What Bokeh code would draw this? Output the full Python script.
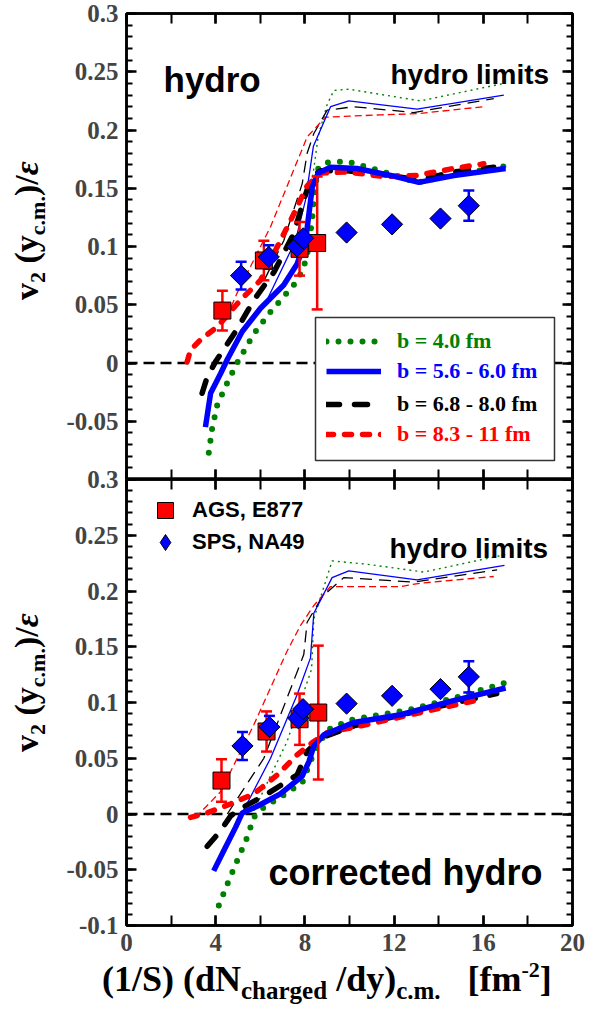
import numpy as np
from bokeh.plotting import figure
from bokeh.models import (Range1d, LinearAxis, FixedTicker, ColumnDataSource, Label,
                          Legend, LegendItem, BoxAnnotation, Span, CustomJSTickFormatter, Div)
from bokeh.layouts import column, row
from bokeh.embed import file_html
from bokeh.resources import INLINE

# ---------------- data ----------------
# top panel: hydro
ags_x_top = [4.30, 6.16, 7.76, 8.55]
ags_y_top = [0.045, 0.088, 0.098, 0.103]
ags_err_top = [0.017, 0.017, 0.023, 0.057]
sps_x_top = [5.14, 6.38, 7.65, 7.92, 9.87, 11.91, 14.08, 15.35]
sps_y_top = [0.075, 0.091, 0.100, 0.107, 0.112, 0.119, 0.124, 0.135]
sps_err_top = [0.012, 0.010, 0.0, 0.0, 0.0, 0.0, 0.0, 0.013]

green_top_x = [3.69, 3.84, 4.07, 4.52, 4.96, 5.71, 6.46, 7.50, 7.92, 8.18, 8.33, 8.45, 8.60, 8.90, 9.90, 11.39, 13.03, 15.13, 17.30]
green_top_y = [-0.077, -0.056, -0.036, -0.017, 0.000, 0.025, 0.044, 0.067, 0.080, 0.100, 0.125, 0.150, 0.167, 0.172, 0.173, 0.165, 0.155, 0.163, 0.170]
blue_top_x = [3.54, 3.77, 4.22, 4.52, 5.19, 6.01, 7.05, 7.65, 8.03, 8.18, 8.33, 8.60, 9.15, 10.34, 11.84, 13.11, 14.68, 17.00]
blue_top_y = [-0.055, -0.026, -0.009, 0.003, 0.027, 0.047, 0.067, 0.085, 0.105, 0.128, 0.151, 0.163, 0.168, 0.167, 0.161, 0.155, 0.161, 0.167]
black_top_x = [3.39, 3.62, 3.99, 4.89, 5.71, 6.61, 7.50, 7.95, 8.30, 8.70, 9.90, 11.84, 13.10, 14.68, 16.47]
black_top_y = [-0.026, -0.012, 0.001, 0.027, 0.054, 0.078, 0.111, 0.140, 0.160, 0.165, 0.165, 0.161, 0.157, 0.164, 0.168]
red_top_x = [2.72, 2.87, 3.32, 4.07, 5.11, 6.01, 6.90, 7.35, 7.80, 8.10, 8.70, 9.90, 11.54, 13.03, 14.68, 16.02]
red_top_y = [0.001, 0.011, 0.020, 0.031, 0.054, 0.071, 0.105, 0.122, 0.140, 0.152, 0.163, 0.164, 0.160, 0.161, 0.167, 0.171]

green_lim_top_x = [8.35, 8.60, 9.00, 9.30, 9.97, 13.18, 16.92]
green_lim_top_y = [0.160, 0.195, 0.222, 0.234, 0.235, 0.225, 0.240]
blue_lim_top_x = [6.35, 7.58, 8.03, 8.38, 9.15, 9.97, 13.03, 16.92]
blue_lim_top_y = [0.056, 0.105, 0.140, 0.186, 0.220, 0.225, 0.218, 0.230]
black_lim_top_x = [6.20, 7.05, 7.88, 8.10, 8.40, 9.00, 10.19, 12.88, 16.47]
black_lim_top_y = [0.072, 0.105, 0.154, 0.180, 0.197, 0.217, 0.220, 0.215, 0.227]
red_lim_top_x = [4.50, 4.96, 6.46, 8.10, 8.92, 11.39, 13.03, 16.02]
red_lim_top_y = [0.040, 0.060, 0.117, 0.194, 0.211, 0.213, 0.214, 0.220]

# bottom panel: corrected hydro
ags_x_bot = [4.26, 6.28, 7.76, 8.60]
ags_y_bot = [0.030, 0.074, 0.085, 0.091]
ags_err_bot = [0.019, 0.018, 0.023, 0.060]
sps_x_bot = [5.20, 6.41, 7.70, 7.92, 9.87, 11.91, 14.08, 15.35]
sps_y_bot = [0.061, 0.078, 0.086, 0.094, 0.099, 0.106, 0.112, 0.123]
sps_err_bot = [0.0125, 0.010, 0.0, 0.0, 0.0, 0.0, 0.0, 0.014]

green_bot_x = [4.14, 4.52, 4.96, 5.41, 5.71, 6.16, 6.90, 7.88, 8.25, 8.55, 9.15, 10.19, 12.59, 14.68, 17.22]
green_bot_y = [-0.082, -0.063, -0.042, -0.021, -0.003, 0.006, 0.015, 0.028, 0.047, 0.062, 0.077, 0.085, 0.093, 0.104, 0.119]
blue_bot_x = [3.91, 4.36, 4.89, 5.19, 5.86, 6.90, 7.88, 8.18, 8.40, 8.85, 10.19, 12.29, 14.53, 17.00]
blue_bot_y = [-0.051, -0.033, -0.012, 0.001, 0.007, 0.018, 0.034, 0.047, 0.061, 0.071, 0.082, 0.089, 0.101, 0.113]
black_bot_x = [3.62, 4.22, 4.66, 4.96, 6.31, 7.65, 8.10, 8.70, 10.19, 13.00, 16.60]
black_bot_y = [-0.029, -0.015, -0.002, 0.003, 0.018, 0.035, 0.056, 0.068, 0.079, 0.092, 0.108]
red_bot_x = [2.87, 3.62, 4.66, 5.71, 6.76, 7.65, 8.33, 9.00, 10.49, 11.84, 14.08, 15.72]
red_bot_y = [-0.003, 0.001, 0.009, 0.018, 0.035, 0.053, 0.064, 0.073, 0.079, 0.085, 0.095, 0.102]

green_lim_bot_x = [5.71, 7.20, 8.30, 8.40, 9.22, 10.79, 13.33, 17.07]
green_lim_bot_y = [0.003, 0.065, 0.130, 0.175, 0.227, 0.224, 0.217, 0.233]
blue_lim_bot_x = [5.19, 6.46, 7.65, 8.25, 8.40, 9.22, 9.97, 13.03, 16.95]
blue_lim_bot_y = [0.001, 0.050, 0.107, 0.140, 0.180, 0.212, 0.218, 0.210, 0.223]
black_lim_bot_x = [4.52, 6.16, 7.95, 8.10, 8.78, 9.74, 12.88, 16.62]
black_lim_bot_y = [0.000, 0.050, 0.143, 0.172, 0.195, 0.212, 0.208, 0.219]
red_lim_bot_x = [3.10, 4.22, 5.71, 7.20, 7.80, 8.40, 9.15, 12.29, 13.18, 16.47]
red_lim_bot_y = [-0.003, 0.020, 0.080, 0.146, 0.169, 0.187, 0.204, 0.204, 0.207, 0.213]

legend_labels = ["b = 4.0 fm", "b = 5.6 - 6.0 fm", "b = 6.8 - 8.0 fm", "b = 8.3 - 11 fm"]
data_labels = ["AGS, E877", "SPS, NA49"]

x_ticks = [0, 4, 8, 12, 16, 20]
x_minor = [0, 2, 4, 6, 8, 10, 12, 14, 16, 18, 20]
y_ticks_top = [-0.05, 0, 0.05, 0.1, 0.15, 0.2, 0.25, 0.3]
y_ticks_bot = [-0.1, -0.05, 0, 0.05, 0.1, 0.15, 0.2, 0.25, 0.3]
y_minor = [round(-0.1 + 0.01 * i, 2) for i in range(41)]

# ---------------- style ----------------
SERIF = "Liberation Serif"
SANS = "Liberation Sans"
GREEN, BLUE, BLACK, RED = "#008000", "#0000ff", "#000000", "#ff0000"
DIV_W = 50
LB, FW, RB = 76, 446, 14
W = LB + FW + RB

fmt = CustomJSTickFormatter(code="return String(Math.round(tick * 100) / 100);")


def style_axis(ax, major_len, minor_len, labels):
    ax.axis_line_width = 2.5
    ax.axis_line_color = "black"
    ax.major_tick_line_width = 2.5
    ax.minor_tick_line_width = 2
    ax.major_tick_in = major_len
    ax.major_tick_out = 0
    ax.minor_tick_in = minor_len
    ax.minor_tick_out = 0
    if labels:
        ax.major_label_text_font = SERIF
        ax.major_label_text_font_style = "bold"
        ax.major_label_text_font_size = "25px"
        ax.major_label_standoff = 8
        ax.formatter = fmt
    else:
        ax.major_label_text_color = None
        ax.major_label_text_font_size = "1px"
        ax.major_label_standoff = 0


def make_fig(height, top_b, bot_b, yticks, show_x):
    p = figure(width=W, height=height, x_range=Range1d(0, 20), y_range=Range1d(-0.1, 0.3),
               output_backend="svg", toolbar_location=None,
               min_border_left=LB, min_border_right=RB,
               min_border_top=top_b, min_border_bottom=bot_b,
               border_fill_color=None, background_fill_color=None)
    p.grid.visible = False
    p.outline_line_color = "black"
    p.outline_line_width = 2.5
    xt = FixedTicker(ticks=x_ticks, minor_ticks=x_minor)
    yt = FixedTicker(ticks=yticks, minor_ticks=y_minor)
    p.xaxis[0].ticker = xt
    p.yaxis[0].ticker = yt
    style_axis(p.xaxis[0], 10, 10, show_x)
    style_axis(p.yaxis[0], 10, 6, True)
    above = LinearAxis(ticker=xt)
    style_axis(above, 10, 10, False)
    p.add_layout(above, "above")
    right = LinearAxis(ticker=yt)
    style_axis(right, 10, 6, False)
    p.add_layout(right, "right")
    p.add_layout(Span(location=0, dimension="width", line_color="black", line_width=2.5,
                      line_dash="11 6", level="underlay"))
    return p


def add_curves(p, lim, thick):
    (gx, gy), (bx, by), (kx, ky), (rx, ry) = lim
    p.line(gx, gy, line_color=GREEN, line_width=1.4, line_dash="2 4")
    p.line(kx, ky, line_color=BLACK, line_width=1.3, line_dash="12 7")
    p.line(rx, ry, line_color=RED, line_width=1.3, line_dash="7 4")
    p.line(bx, by, line_color=BLUE, line_width=1.3)
    (gx, gy), (bx, by), (kx, ky), (rx, ry) = thick
    rg = p.line(gx, gy, line_color=GREEN, line_width=6, line_dash="0 12", line_cap="round")
    rk = p.line(kx, ky, line_color=BLACK, line_width=5.5, line_dash="13 15", line_cap="round")
    rr = p.line(rx, ry, line_color=RED, line_width=5.5, line_dash="7 11", line_cap="round")
    rb = p.line(bx, by, line_color=BLUE, line_width=5.5)
    return rg, rb, rk, rr


def add_points(p, ax, ay, ae, sx, sy, se):
    for xs, ys, es, col in ((ax, ay, ae, RED), (sx, sy, se, BLUE)):
        src = ColumnDataSource(dict(x=xs, upper=[y + e for y, e in zip(ys, es)],
                                    lower=[y - e for y, e in zip(ys, es)]))
        p.segment(x0="x", y0="lower", x1="x", y1="upper", source=src, line_color=col, line_width=2.5)
        p.scatter(x="x", y="upper", source=src, marker="dash", size=11, line_color=col, line_width=2.5)
        p.scatter(x="x", y="lower", source=src, marker="dash", size=11, line_color=col, line_width=2.5)
    rs = p.scatter(ax, ay, marker="square", size=17, fill_color=RED, line_color="black", line_width=1)
    # narrow diamond underneath (fully covered) -> used as the legend glyph
    rd = p.scatter(sx, sy, marker="diamond", size=14, fill_color=BLUE, line_color="black", line_width=1)
    p.scatter(sx, sy, marker="square", angle=np.pi / 4, size=15, fill_color=BLUE,
              line_color="black", line_width=1)
    return rs, rd


def add_text(p, text, x, y, size, font, color="black", style="bold"):
    p.add_layout(Label(x=x, y=y, x_units="screen", y_units="screen", text=text,
                       text_font=font, text_font_size=f"{size}px", text_font_style=style,
                       text_color=color, text_baseline="alphabetic", text_align="left"))


def leg(items, loc, gw, gh, standoff, font, size, color):
    return Legend(items=items, location=loc, border_line_alpha=0, background_fill_alpha=0,
                  padding=0, margin=0, spacing=0, glyph_width=gw, glyph_height=gh,
                  label_height=gh, label_standoff=standoff, label_text_font=font,
                  label_text_font_style="bold", label_text_font_size=f"{size}px",
                  label_text_color=color)


# ---------------- top panel ----------------
p1 = make_fig(479, 13, 0, y_ticks_top, False)
top_lim = [(green_lim_top_x, green_lim_top_y), (blue_lim_top_x, blue_lim_top_y),
           (black_lim_top_x, black_lim_top_y), (red_lim_top_x, red_lim_top_y)]
top_thick = [(green_top_x, green_top_y), (blue_top_x, blue_top_y),
             (black_top_x, black_top_y), (red_top_x, red_top_y)]
r_lines = add_curves(p1, top_lim, top_thick)
add_points(p1, ags_x_top, ags_y_top, ags_err_top, sps_x_top, sps_y_top, sps_err_top)

p1.add_layout(BoxAnnotation(left=189, right=428, bottom=19, top=162,
                            left_units="screen", right_units="screen",
                            bottom_units="screen", top_units="screen",
                            fill_color="white", fill_alpha=1, line_color="#333333",
                            line_width=1.5, line_alpha=1))
row_y = [125, 95, 62, 32]
for lab, r, col, yy in zip(legend_labels, r_lines, [GREEN, BLUE, BLACK, RED], row_y):
    p1.add_layout(leg([LegendItem(label=lab, renderers=[r])], (200, yy), 55, 26, 16, SERIF, 22, col))

add_text(p1, "hydro", 37, 400, 35, SANS)
add_text(p1, "hydro limits", 264, 405, 28, SANS)

# ---------------- bottom panel ----------------
p2 = make_fig(498, 12, 40, y_ticks_bot, True)
p2.margin = (-12, 0, 0, 0)
bot_lim = [(green_lim_bot_x, green_lim_bot_y), (blue_lim_bot_x, blue_lim_bot_y),
           (black_lim_bot_x, black_lim_bot_y), (red_lim_bot_x, red_lim_bot_y)]
bot_thick = [(green_bot_x, green_bot_y), (blue_bot_x, blue_bot_y),
             (black_bot_x, black_bot_y), (red_bot_x, red_bot_y)]
add_curves(p2, bot_lim, bot_thick)
r_sq, r_dia = add_points(p2, ags_x_bot, ags_y_bot, ags_err_bot, sps_x_bot, sps_y_bot, sps_err_bot)
p2.add_layout(leg([LegendItem(label=data_labels[0], renderers=[r_sq])], (19, 395), 40, 40, 7, SANS, 22, "black"))
p2.add_layout(leg([LegendItem(label=data_labels[1], renderers=[r_dia])], (19, 363), 40, 40, 7, SANS, 22, "black"))

add_text(p2, "hydro limits", 263, 377, 28, SANS)
add_text(p2, "corrected hydro", 142, 53, 36, SANS)

# ---------------- axis titles (HTML text) ----------------
YT = ("v<span style='font-size:22px;position:relative;top:7px'>2</span> (y"
      "<span style='font-size:22px;position:relative;top:7px'>c.m.</span>)/<i>&epsilon;</i>")
ystyle = ("position:absolute;left:7px;top:{top}px;transform-origin:0 0;transform:rotate(-90deg);"
          "white-space:nowrap;font-family:'Liberation Serif';font-weight:bold;font-size:34px;"
          "line-height:40px;color:black;")
div_y = Div(width=DIV_W, height=1000, margin=0,
            text=("<div style='position:relative;width:50px;height:1000px;'>"
                  f"<div style=\"{ystyle.format(top=300)}\">{YT}</div>"
                  f"<div style=\"{ystyle.format(top=752)}\">{YT}</div></div>"))

XT = ("(1/S) (dN<span style='font-size:25px;position:relative;top:8px'>charged</span> /dy)"
      "<span style='font-size:25px;position:relative;top:8px'>c.m.</span>&nbsp;&nbsp;&nbsp;[fm"
      "<span style='font-size:22px;position:relative;top:-14px'>-2</span>]")
div_x = Div(width=W, height=48, margin=(-6, 0, 0, 0),
            text=("<div style=\"padding-left:52px;padding-top:2px;white-space:nowrap;"
                  "font-family:'Liberation Serif';font-weight:bold;font-size:36px;"
                  "line-height:36px;color:black;\">"
                  f"{XT}</div>"))

layout = row(div_y, column(p1, p2, div_x))
open("out.html", "w").write(file_html(layout, INLINE))
